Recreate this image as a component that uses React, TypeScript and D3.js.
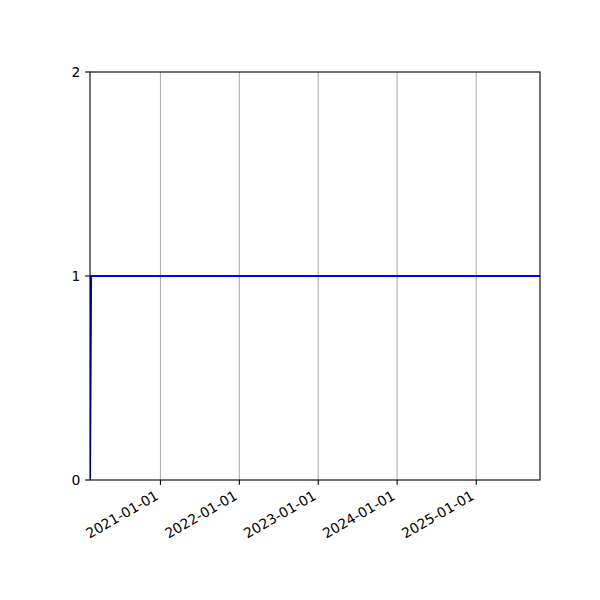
import React from "react";
import * as d3 from "d3";

const dates: string[] = ["2020-02-10", "2020-02-15", "2025-10-23"];
const values: number[] = [0, 1, 1];
const xDomain: string[] = ["2020-02-10", "2025-10-23"];
const yDomain: number[] = [0, 2];
const yTicks: number[] = [0, 1, 2];
const xTickLabels: string[] = ["2021-01-01", "2022-01-01", "2023-01-01", "2024-01-01", "2025-01-01"];

const W = 600, H = 600;
const L = 90, R = 540, T = 72, B = 480;
const FONT = "'DejaVu Sans', sans-serif";

export default function App() {
  const parse = d3.utcParse("%Y-%m-%d");
  const x = d3.scaleUtc().domain(xDomain.map((s) => parse(s)!)).range([L, R]);
  const y = d3.scaleLinear().domain(yDomain).range([B, T]);
  const pts = dates.map((d, i) => ({ d: parse(d)!, v: values[i] }));
  const line = d3.line<{ d: Date; v: number }>().x((p) => x(p.d)).y((p) => y(p.v));
  const tickLen = 4.86;
  return (
    <svg width={W} height={H} style={{ position: "absolute", left: 0, top: 0, background: "#fff" }}>
      <defs>
        <clipPath id="ax">
          <rect x={L} y={T} width={R - L} height={B - T} />
        </clipPath>
      </defs>
      <rect x={0} y={0} width={W} height={H} fill="#fff" />
      {xTickLabels.map((s) => {
        const xx = x(parse(s)!);
        return <line key={"g" + s} x1={xx} x2={xx} y1={T} y2={B} stroke="#b0b0b0" strokeWidth={1.1} />;
      })}
      <path d={line(pts) || ""} fill="none" stroke="#0000ff" strokeWidth={2.08} clipPath="url(#ax)" />
      <rect x={L} y={T} width={R - L} height={B - T} fill="none" stroke="#000" strokeWidth={1.1} />
      {xTickLabels.map((s) => {
        const xx = x(parse(s)!);
        return (
          <g key={"t" + s}>
            <line x1={xx} x2={xx} y1={B} y2={B + tickLen} stroke="#000" strokeWidth={1.1} />
            <text
              transform={`translate(${xx - 1},${498.5}) rotate(-30)`}
              textAnchor="end"
              fontFamily={FONT}
              fontSize={13.9}
              fill="#000"
            >
              {s}
            </text>
          </g>
        );
      })}
      {yTicks.map((v) => {
        const yy = y(v);
        return (
          <g key={"y" + v}>
            <line x1={L - tickLen} x2={L} y1={yy} y2={yy} stroke="#000" strokeWidth={1.1} />
            <text x={L - 2 * tickLen} y={yy} dy="0.35em" textAnchor="end" fontFamily={FONT} fontSize={13.9} fill="#000">
              {String(v)}
            </text>
          </g>
        );
      })}
    </svg>
  );
}
